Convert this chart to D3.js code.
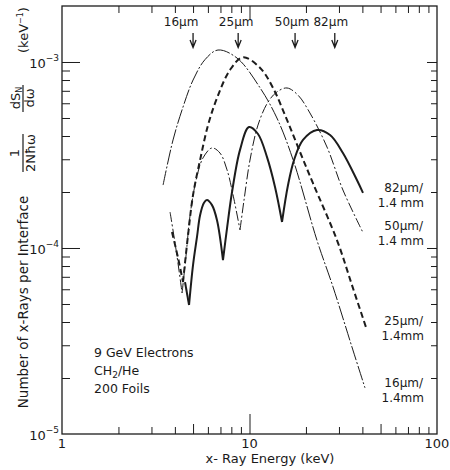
<!DOCTYPE html>
<html>
<head>
<meta charset="utf-8">
<script src="https://d3js.org/d3.v7.min.js"></script>
<style>
  body { margin: 0; background: #fff; }
  svg text { font-family: "DejaVu Sans", sans-serif; fill: #1a1a1a; }
</style>
</head>
<body>
<svg id="chart" width="450" height="470"></svg>
<script>
// x-ray energy (keV) / yield per interface (keV^-1)
const e16 = [3.46, 3.91, 4.42, 5.0, 5.79, 6.79, 8.58, 11.4, 14.0, 17.1, 22.9, 27.9, 35.6, 41.3]
const s16 = [2.18e-4, 3.81e-4, 5.73e-4, 8.0e-4, 1.03e-3, 1.16e-3, 1.05e-3, 7.25e-4, 5.0e-4, 2.97e-4, 1.10e-4, 6.17e-5, 2.83e-5, 1.77e-5]

const e25 = [3.86, 4.16, 4.42, 4.70, 5.0, 5.45, 6.01, 6.71, 7.87, 9.23, 11.4, 13.35, 15.85, 18.6, 21.8, 29.3, 35.6, 42.3]
const s25 = [1.22e-4, 8.83e-5, 6.56e-5, 1.17e-4, 1.93e-4, 2.97e-4, 4.58e-4, 6.40e-4, 9.06e-4, 1.06e-3, 9.29e-4, 7.25e-4, 4.88e-4, 3.28e-4, 2.23e-4, 1.10e-4, 6.1e-5, 3.62e-5]

const e50 = [3.77, 4.06, 4.37, 4.59, 4.82, 5.19, 5.65, 6.31, 6.96, 7.59, 8.17, 8.90, 9.35, 10.06, 11.1, 12.55, 14.0, 15.85, 18.1, 21.0, 25.9, 31.5, 40.3]
const s50 = [1.56e-4, 9.75e-5, 5.73e-5, 9.16e-5, 1.50e-4, 2.32e-4, 3.05e-4, 3.45e-4, 3.24e-4, 2.63e-4, 1.93e-4, 1.25e-4, 1.81e-4, 2.97e-4, 4.58e-4, 6.09e-4, 6.90e-4, 7.25e-4, 6.65e-4, 5.32e-4, 3.49e-4, 2.05e-4, 1.21e-4]

const e82 = [4.53, 4.76, 5.0, 5.25, 5.45, 5.72, 5.93, 6.31, 6.71, 7.22, 7.59, 8.07, 8.90, 9.94, 11.1, 12.4, 13.68, 14.91, 16.05, 17.28, 19.29, 22.9, 26.9, 31.5, 37.4, 40.3]
const s82 = [6.56e-5, 4.94e-5, 8.11e-5, 1.15e-4, 1.50e-4, 1.75e-4, 1.81e-4, 1.70e-4, 1.41e-4, 8.6e-5, 1.28e-4, 2.0e-4, 3.37e-4, 4.47e-4, 4.10e-4, 3.08e-4, 2.13e-4, 1.38e-4, 2.18e-4, 2.97e-4, 3.81e-4, 4.31e-4, 4.05e-4, 3.24e-4, 2.32e-4, 1.98e-4]

// arrows at the top (keV) and their labels
const arrowE = [5.0, 8.7, 17.5, 28.5]
const arrowLabels = ['16μm', '25μm', '50μm', '82μm']

const xMinor = [2, 3, 4, 5, 6, 7, 8, 9, 20, 30, 40, 50, 60, 70, 80, 90]
const xMajor = [10]
const xTickLabels = [1, 10, 100]
const yMinor = [2e-5, 3e-5, 4e-5, 5e-5, 6e-5, 7e-5, 8e-5, 9e-5, 2e-4, 3e-4, 4e-4, 5e-4, 6e-4, 7e-4, 8e-4, 9e-4]
const yMajor = [1e-4, 1e-3]
const yTickExp = [-3, -4, -5]

const seriesLabels = ['16μm/', '25μm/', '50μm/', '82μm/']
const notes = ['9 GeV Electrons', 'CH|2|/He', '200 Foils']

const padL = 62, padR = 437, padT = 6, padB = 434
const x = d3.scaleLog().domain([1, 100]).range([padL, padR])
const y = d3.scaleLog().domain([1e-5, 2e-3]).range([padB, padT])
const ink = '#1c1c1c'

const svg = d3.select('#chart')

svg.append('rect')
    .attr('x', padL).attr('y', padT)
    .attr('width', padR - padL).attr('height', padB - padT)
    .attr('fill', 'none').attr('stroke', ink).attr('stroke-width', 1.3)

function isMajor(d) {
    let l = Math.log10(d)
    return Math.abs(l - Math.round(l)) < 1e-6
}

function tickAxis(axis, pos, attr, len) {
    const g = svg.append('g').attr('transform', pos)
    g.call(axis.tickFormat('').tickSizeOuter(0))
    g.select('.domain').remove()
    g.selectAll('.tick line').attr('stroke', ink).attr(attr, len)
    return g
}

const xt = xMinor.concat(xMajor).sort((a, b) => a - b)
const yt = yMinor.concat(yMajor).sort((a, b) => a - b)

tickAxis(d3.axisBottom(x).tickValues(xt), `translate(0,${padB})`, 'y2',
    d => isMajor(d) ? -20 : (d == 5 || d == 50) ? -10 : -7)
tickAxis(d3.axisTop(x).tickValues(xt), `translate(0,${padT})`, 'y2',
    d => isMajor(d) ? 13 : 7)
tickAxis(d3.axisLeft(y).tickValues(yt), `translate(${padL},0)`, 'x2',
    d => isMajor(d) ? 18 : 8)
tickAxis(d3.axisRight(y).tickValues(yt), `translate(${padR},0)`, 'x2',
    d => isMajor(d) ? -10 : -6)

// tick labels
svg.selectAll('.xl').data(xTickLabels).enter().append('text')
    .attr('x', d => x(d)).attr('y', padB + 14)
    .attr('text-anchor', 'middle')
    .style('font-size', '13px')
    .text(d => d)

yTickExp.forEach(p => {
    const t = svg.append('text')
        .attr('x', padL - 3).attr('y', y(Math.pow(10, p)) + 6)
        .attr('text-anchor', 'end')
        .style('font-size', '13px')
    t.append('tspan').text('10')
    t.append('tspan').attr('dy', -7).style('font-size', '9px').text('−' + Math.abs(p))
})

// curves: split at the sharp minima so the cusps stay sharp
function pieces(es, ss) {
    const pts = es.map((e, i) => [e, ss[i]])
    const out = []
    let cur = [pts[0]]
    for (let i = 1; i < pts.length; i++) {
        cur.push(pts[i])
        if (i < pts.length - 1 && pts[i][1] < pts[i - 1][1] && pts[i][1] < pts[i + 1][1]) {
            out.push(cur)
            cur = [pts[i]]
        }
    }
    out.push(cur)
    return out
}

const line = d3.line()
    .x(d => x(d[0]))
    .y(d => y(d[1]))
    .curve(d3.curveCatmullRom.alpha(0.5))

const series = [
    { e: e16, s: s16, w: 1, dash: '15,2,2,2' },
    { e: e25, s: s25, w: 2, dash: '6,3.5' },
    { e: e50, s: s50, w: 1, dash: '10,2.5,2,2.5' },
    { e: e82, s: s82, w: 2, dash: null }
]

series.forEach(c => {
    svg.append('g').selectAll('path')
        .data(pieces(c.e, c.s))
        .enter().append('path')
        .attr('d', line)
        .attr('fill', 'none')
        .attr('stroke', ink)
        .attr('stroke-width', c.w)
        .attr('stroke-dasharray', c.dash)
        .attr('stroke-linejoin', 'round')
})

// top arrows
const shift = [-12, -2, -3, -4]
arrowE.forEach((e, i) => {
    const ax = x(e)
    svg.append('path')
        .attr('d', `M${ax},33 V47 M${ax - 3},40 L${ax},47.5 L${ax + 3},40`)
        .attr('fill', 'none').attr('stroke', ink).attr('stroke-width', 1.3)
    svg.append('text')
        .attr('x', ax + shift[i]).attr('y', 26)
        .attr('text-anchor', 'middle')
        .style('font-size', '12px')
        .text(arrowLabels[i])
})

// curve labels at the right
const labelY = [387, 325, 230, 192]
seriesLabels.forEach((s, i) => {
    svg.append('text').attr('x', 423).attr('y', labelY[i])
        .attr('text-anchor', 'end').style('font-size', '12px').text(s)
    svg.append('text').attr('x', 424).attr('y', labelY[i] + 15)
        .attr('text-anchor', 'end').style('font-size', '12px').text(i == 3 || i == 2 ? '1.4 mm' : '1.4mm')
})

// notes block
notes.forEach((n, i) => {
    const t = svg.append('text').attr('x', 94).attr('y', 357 + i * 18).style('font-size', '12.5px')
    const parts = n.split('|')
    parts.forEach((p, j) => {
        if (j == 1) t.append('tspan').attr('dy', 3).style('font-size', '9px').text(p)
        else if (j == 2) t.append('tspan').attr('dy', -3).text(p)
        else t.append('tspan').text(p)
    })
})

// axis titles
svg.append('text').attr('x', 270).attr('y', 463)
    .attr('text-anchor', 'middle').style('font-size', '13px')
    .text('x- Ray Energy (keV)')

function vtext(sx, sy, size) {
    return svg.append('text')
        .attr('transform', `translate(${sx},${sy}) rotate(-90)`)
        .attr('text-anchor', 'middle')
        .style('font-size', size + 'px')
}

vtext(28, 302, 13.5).text('Number of  x-Rays per Interface')
vtext(19, 153, 13).text('1')
vtext(35, 153, 13).text('2Nħω')
let num = vtext(20, 98, 13)
num.append('tspan').text('dS')
num.append('tspan').attr('dy', 2).style('font-size', '8px').text('N')
vtext(34, 98, 13).text('dω')
let kev = vtext(28, 30, 13)
kev.append('tspan').text('(keV')
kev.append('tspan').attr('dy', -5).style('font-size', '8px').text('−1')
kev.append('tspan').attr('dy', 5).text(')')

svg.append('line').attr('x1', 23).attr('x2', 23).attr('y1', 134).attr('y2', 172)
    .attr('stroke', ink).attr('stroke-width', 1.2)
svg.append('line').attr('x1', 23).attr('x2', 23).attr('y1', 85).attr('y2', 112)
    .attr('stroke', ink).attr('stroke-width', 1.2)
</script>
</body>
</html>
